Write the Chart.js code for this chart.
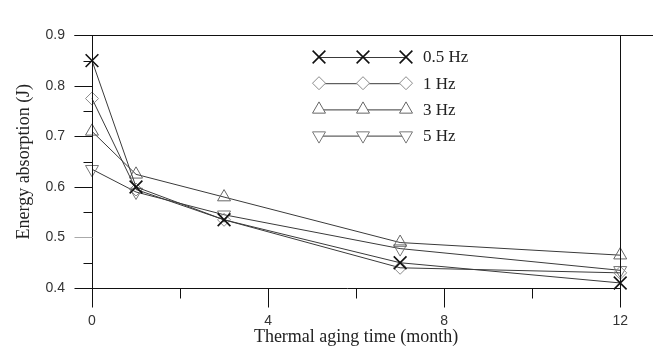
<!DOCTYPE html>
<html>
<head>
<meta charset="utf-8">
<script src="https://cdn.jsdelivr.net/npm/chart.js@4/dist/chart.umd.min.js"></script>
<style>
  html, body { margin: 0; padding: 0; background: #fff; }
  #wrap { width: 653px; height: 360px; }
</style>
</head>
<body>
<div id="wrap"><canvas id="energyChart" width="653" height="360"></canvas></div>
<script>
// thermal aging time (month)
const months = [0, 1, 3, 7, 12];
// energy absorption (J) per test frequency
const hz05 = [0.85, 0.60, 0.535, 0.45, 0.41];
const hz1 = [0.775, 0.595, 0.535, 0.44, 0.43];
const hz3 = [0.71, 0.625, 0.58, 0.49, 0.465];
const hz5 = [0.635, 0.59, 0.545, 0.478, 0.435];
const seriesNames = ['0.5 Hz', '1 Hz', '3 Hz', '5 Hz'];
const xTicks = [0, 4, 8, 12];
const yTicks = [0.4, 0.5, 0.6, 0.7, 0.8, 0.9];

function toPoints(vals){
    return months.map((m, i) => ({x: m, y: vals[i]}));
}

const markerStyles = [
    {pointStyle: 'crossRot', radius: 9, rotation: 0, color: '#111', width: 1.6},
    {pointStyle: 'rectRot', radius: 6.5, rotation: 0, color: '#8a8a8a', width: 1},
    {pointStyle: 'triangle', radius: 7.5, rotation: 0, color: '#666', width: 1},
    {pointStyle: 'triangle', radius: 7.5, rotation: 180, color: '#777', width: 1}
];

function makeDataset(name, vals, k){
    const m = markerStyles[k];
    return {
        label: name,
        data: toPoints(vals),
        borderColor: '#3a3a3a',
        borderWidth: 1,
        pointStyle: m.pointStyle,
        pointRadius: m.radius,
        pointRotation: m.rotation,
        pointBorderColor: m.color,
        pointBorderWidth: m.width,
        pointBackgroundColor: 'rgba(0,0,0,0)',
        tension: 0,
        clip: false
    };
}

// frame, axes and tick marks drawn from the scales
const framePlugin = {
    id: 'frame',
    afterDatasetsDraw(chart){
        const ctx = chart.ctx;
        const xs = chart.scales.x, ys = chart.scales.y;
        const L = xs.getPixelForValue(0), R = xs.getPixelForValue(12);
        const T = ys.getPixelForValue(0.9), B = ys.getPixelForValue(0.4);
        ctx.save();
        ctx.strokeStyle = '#111';
        ctx.lineWidth = 1;
        function seg(x1, y1, x2, y2, col){
            ctx.strokeStyle = col || '#111';
            ctx.beginPath();
            ctx.moveTo(Math.round(x1) + 0.5, Math.round(y1) + 0.5);
            ctx.lineTo(Math.round(x2) + 0.5, Math.round(y2) + 0.5);
            ctx.stroke();
        }
        seg(L - 18, T, 653, T);
        seg(L - 18, B, R, B);
        seg(L, T, L, B + 19);
        seg(R, T, R, B + 19);
        for (let v = 0.5; v < 0.9; v += 0.1){
            const y = ys.getPixelForValue(v);
            seg(L - 18, y, L, y, Math.abs(v - 0.5) < 0.01 ? '#aaa' : '#111');
        }
        for (let v = 0.45; v < 0.9; v += 0.1){
            const y = ys.getPixelForValue(v);
            seg(L - 9, y, L, y);
        }
        [4, 8].forEach(v => {
            const x = xs.getPixelForValue(v);
            seg(x, B, x, B + 19);
        });
        [2, 6, 10].forEach(v => {
            const x = xs.getPixelForValue(v);
            seg(x, B, x, B + 10);
        });
        ctx.restore();
    }
};

// legend with three markers on a line, like the original figure
const legendPlugin = {
    id: 'lineLegend',
    afterDraw(chart){
        const ctx = chart.ctx;
        const x0 = 319, x1 = 363, x2 = 406, tx = 423;
        ctx.save();
        chart.data.datasets.forEach((ds, k) => {
            const y = 57 + k * 26.2;
            const m = markerStyles[k];
            ctx.strokeStyle = '#3a3a3a';
            ctx.lineWidth = 1;
            ctx.beginPath();
            ctx.moveTo(x0, y + 0.5);
            ctx.lineTo(x2, y + 0.5);
            ctx.stroke();
            [x0, x1, x2].forEach(px => {
                ctx.strokeStyle = m.color;
                ctx.fillStyle = '#fff';
                ctx.lineWidth = m.width;
                Chart.helpers.drawPoint(ctx, {
                    pointStyle: m.pointStyle,
                    rotation: m.rotation,
                    radius: m.radius,
                    borderWidth: m.width
                }, px, y);
            });
            ctx.fillStyle = '#222';
            ctx.font = '17px "Liberation Serif"';
            ctx.textBaseline = 'middle';
            ctx.fillText(ds.label, tx, y + 1);
        });
        ctx.restore();
    }
};

const ctx = document.getElementById('energyChart').getContext('2d');
const energyChart = new Chart(ctx, {
    type: 'line',
    data: {
        datasets: [
            makeDataset(seriesNames[0], hz05, 0),
            makeDataset(seriesNames[1], hz1, 1),
            makeDataset(seriesNames[2], hz3, 2),
            makeDataset(seriesNames[3], hz5, 3)
        ]
    },
    options: {
        responsive: false,
        animation: false,
        layout: {padding: {top: 15, right: 14, left: 0, bottom: 0}},
        plugins: {
            legend: {display: false},
            tooltip: {enabled: false}
        },
        scales: {
            x: {
                type: 'linear',
                min: 0,
                max: 12,
                afterBuildTicks: s => { s.ticks = xTicks.map(v => ({value: v})); },
                afterFit: s => { s.height = 72; },
                grid: {display: false, drawTicks: false},
                border: {display: false},
                ticks: {
                    padding: 25,
                    color: '#333',
                    font: {family: '"Liberation Sans"', size: 14},
                    maxRotation: 0
                },
                title: {
                    display: true,
                    text: 'Thermal aging time (month)',
                    color: '#222',
                    font: {family: '"Liberation Serif"', size: 18},
                    padding: {top: 0, bottom: 12}
                }
            },
            y: {
                min: 0.4,
                max: 0.9,
                afterBuildTicks: s => { s.ticks = yTicks.map(v => ({value: v})); },
                afterFit: s => { s.width = 92; },
                grid: {display: false, drawTicks: false},
                border: {display: false},
                ticks: {
                    padding: 27,
                    color: '#333',
                    font: {family: '"Liberation Sans"', size: 14},
                    callback: v => v.toFixed(1)
                },
                title: {
                    display: true,
                    text: 'Energy absorption (J)',
                    color: '#222',
                    font: {family: '"Liberation Serif"', size: 18},
                    padding: {top: 13, bottom: 0}
                }
            }
        }
    },
    plugins: [framePlugin, legendPlugin]
});
</script>
</body>
</html>
